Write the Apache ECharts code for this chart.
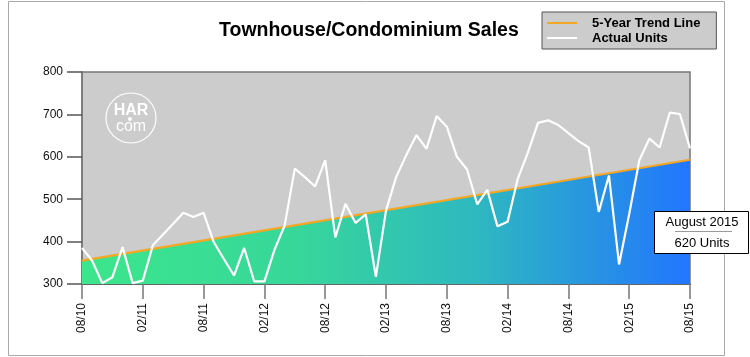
<!DOCTYPE html>
<html>
<head>
<meta charset="utf-8">
<script src="https://cdn.jsdelivr.net/npm/echarts@6/dist/echarts.min.js"></script>
<style>
html,body{margin:0;padding:0;background:#fff;}
#chart{width:750px;height:357px;}
</style>
</head>
<body>
<div id="chart"></div>
<script>
const months = ["08/10","09/10","10/10","11/10","12/10","01/11","02/11","03/11","04/11","05/11","06/11","07/11",
"08/11","09/11","10/11","11/11","12/11","01/12","02/12","03/12","04/12","05/12","06/12","07/12",
"08/12","09/12","10/12","11/12","12/12","01/13","02/13","03/13","04/13","05/13","06/13","07/13",
"08/13","09/13","10/13","11/13","12/13","01/14","02/14","03/14","04/14","05/14","06/14","07/14",
"08/14","09/14","10/14","11/14","12/14","01/15","02/15","03/15","04/15","05/15","06/15","07/15","08/15"];
const actualUnits = [385,355,302,316,387,302,308,392,417,442,468,458,
468,399,359,320,385,306,306,381,438,572,552,530,
592,410,489,444,464,317,473,552,604,651,619,696,
671,600,570,488,522,436,447,548,610,680,686,675,
656,637,622,470,556,346,465,592,643,622,704,701,620];
const trendStart = 355;
const trendEnd = 593;
const yTicks = [300,400,500,600,700,800];
const tipTitle = "August 2015";
const tipValue = 620;

const FONT = "'Liberation Sans', Arial, Helvetica, sans-serif";
const chart = echarts.init(document.getElementById('chart'), null, {renderer:'canvas'});
const last = months.length - 1;

chart.setOption({
  animation: false,
  backgroundColor: '#ffffff',
  title: {
    text: 'Townhouse/Condominium Sales',
    left: 214, top: 16,
    textStyle: {fontFamily: FONT, fontSize: 19.5, fontWeight: 'bold', color: '#000'}
  },
  legend: {
    orient: 'vertical',
    left: 542, top: 12,
    padding: [4, 16, 4, 5],
    itemGap: 1,
    itemWidth: 30, itemHeight: 2,
    backgroundColor: '#cccccc',
    borderColor: '#555555', borderWidth: 1,
    icon: 'rect',
    textStyle: {fontFamily: FONT, fontSize: 13, fontWeight: 'bold', color: '#000', padding: [0,0,0,10], lineHeight: 14},
    data: [
      {name: '5-Year Trend Line', itemStyle: {color: '#f5a623'}},
      {name: 'Actual Units', itemStyle: {color: '#ffffff'}}
    ]
  },
  grid: {
    left: 82, right: 60, top: 72, bottom: 73,
    show: true, backgroundColor: '#cccccc', borderColor: '#777777', borderWidth: 1.5
  },
  xAxis: {
    type: 'category',
    data: months,
    boundaryGap: false,
    axisLine: {show: true, lineStyle: {color: '#555555', width: 1.5}},
    axisTick: {show: true, interval: 5, length: 15, lineStyle: {color: '#777777', width: 1.5}},
    axisLabel: {interval: 5, rotate: 90, margin: 19, fontFamily: FONT, fontSize: 12, color: '#111'},
    splitLine: {show: false}
  },
  yAxis: {
    type: 'value',
    min: yTicks[0], max: yTicks[yTicks.length-1], interval: 100,
    axisLine: {show: true, lineStyle: {color: '#777777', width: 1.5}},
    axisTick: {show: true, length: 15, lineStyle: {color: '#555555', width: 1.5}},
    axisLabel: {margin: 19, fontFamily: FONT, fontSize: 12, color: '#111'},
    splitLine: {show: false}
  },
  series: [
    {
      name: '5-Year Trend Line',
      type: 'line',
      data: [[0, trendStart], [last, trendEnd]],
      symbol: 'none',
      lineStyle: {color: '#f5a623', width: 2.2},
      itemStyle: {color: '#f5a623'},
      areaStyle: {
        origin: 'start',
        opacity: 1,
        color: new echarts.graphic.LinearGradient(0, 0, 1, 0, [
          {offset: 0, color: '#3ce68b'},
          {offset: 0.35, color: '#37d79a'},
          {offset: 0.65, color: '#2eb8c0'},
          {offset: 1, color: '#2276ff'}
        ])
      },
      z: 2
    },
    {
      name: 'Actual Units',
      type: 'line',
      data: actualUnits,
      symbol: 'none',
      lineStyle: {color: '#ffffff', width: 2.2},
      itemStyle: {color: '#ffffff'},
      z: 3
    }
  ],
  graphic: {
    z: 100,
    elements: [
    {
      type: 'rect', silent: true, z: 100,
      shape: {x: 8.5, y: 1.5, width: 716, height: 354},
      style: {fill: null, stroke: '#aaaaaa', lineWidth: 1}
    },
    {type: 'circle', z: 100, shape: {cx: 131, cy: 118, r: 25}, style: {fill: null, stroke: '#ffffff', lineWidth: 1.2}},
    {type: 'text', z: 100, x: 131, y: 111, style: {text: 'HAR', fill: '#ffffff', font: "bold 16px 'Liberation Sans', Arial", align: 'center', verticalAlign: 'middle'}},
    {type: 'circle', z: 100, shape: {cx: 130, cy: 119, r: 2}, style: {fill: '#ffffff'}},
    {type: 'text', z: 100, x: 131, y: 127, style: {text: 'com', fill: '#ffffff', font: "16px 'Liberation Sans', Arial", align: 'center', verticalAlign: 'middle'}},
    {type: 'rect', z: 100, shape: {x: 654.5, y: 211.5, width: 94, height: 42}, style: {fill: '#ffffff', stroke: '#000000', lineWidth: 1}},
    {type: 'text', z: 101, x: 702, y: 222.5, style: {text: tipTitle, fill: '#000', font: "13px 'Liberation Sans', Arial", align: 'center', verticalAlign: 'middle'}},
    {type: 'line', z: 101, shape: {x1: 675, y1: 231.5, x2: 732, y2: 231.5}, style: {stroke: '#999999', lineWidth: 1}},
    {type: 'text', z: 101, x: 702, y: 243, style: {text: tipValue + ' Units', fill: '#000', font: "13px 'Liberation Sans', Arial", align: 'center', verticalAlign: 'middle'}}
    ]
  }
});
</script>
</body>
</html>
